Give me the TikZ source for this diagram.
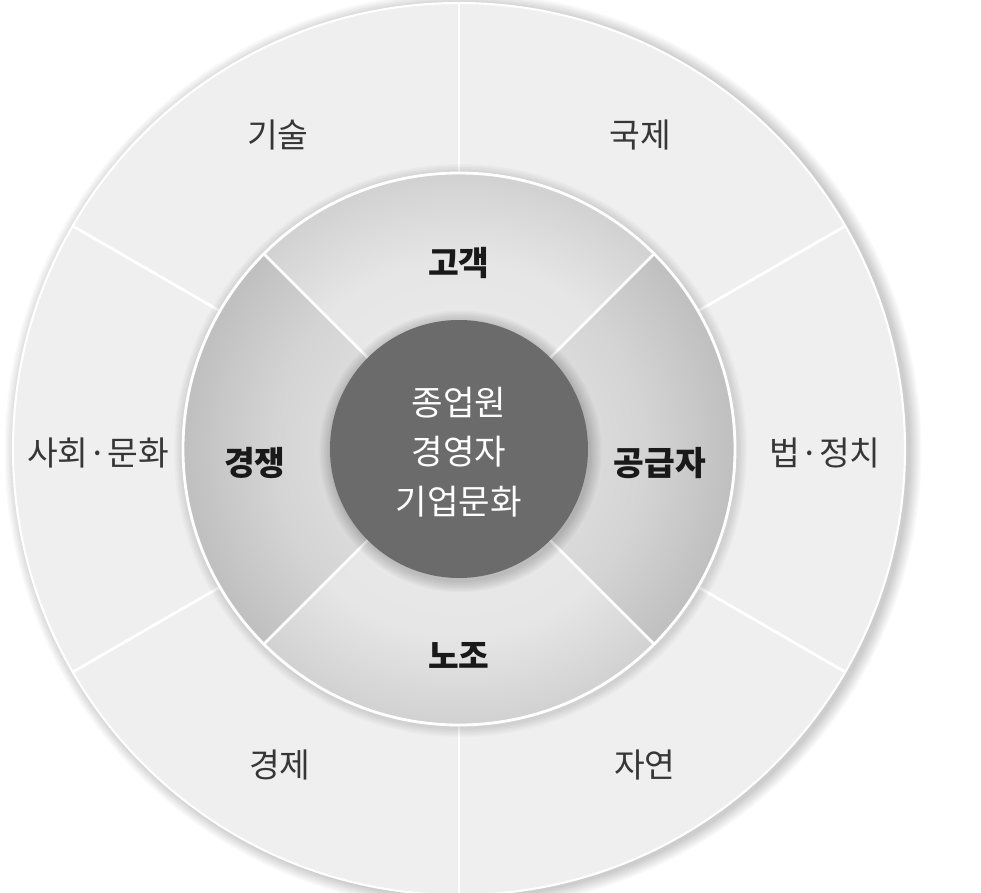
\documentclass[tikz,border=0pt]{standalone}
\usepackage{fontspec}
\setmainfont{Noto Sans CJK KR}
\usetikzlibrary{positioning}

\definecolor{ringout}{HTML}{EFEFF0}
\definecolor{coredark}{HTML}{6B6B6B}
\definecolor{labelgray}{HTML}{363636}

% shadings for the middle ring (25bp = edge of the circle)
\pgfdeclareradialshading{midlight}{\pgfpoint{0bp}{0bp}}{color(0bp)=(black!12); color(12bp)=(black!9); color(17bp)=(black!10); color(25bp)=(black!18); color(50bp)=(black!18)}
\pgfdeclareradialshading{middark}{\pgfpoint{0bp}{0bp}}{color(0bp)=(black!17); color(12bp)=(black!14); color(17bp)=(black!17); color(25bp)=(black!25); color(50bp)=(black!25)}

\tikzset{
  outerlabel/.style={text=labelgray, font=\fontsize{19}{22}\selectfont},
  midlabel/.style={text=black!90, font=\fontsize{19}{22}\selectfont\bfseries},
  corelabel/.style={text=white, align=center, font=\fontsize{19.5}{28}\selectfont},
  divider/.style={white, line width=1.6pt}
}

\begin{document}
\begin{tikzpicture}

  \useasboundingbox[fill=white] (-9.18,-8.88) rectangle (10.44,8.98);

  % soft shadow round the outer circle
  \foreach \i in {1,...,10}
    \fill[black, opacity=0.018] (0.08,-0.04) circle ({8.92+0.025*\i});

  % outer ring
  \fill[ringout] (0,0) circle (8.92);
  \draw[white, line width=1.2pt] (0,0) circle (8.92);
  \foreach \a in {30,90,150,210,270,330}
    \draw[divider] (\a:5.5) -- (\a:8.92);

  % shadow round the middle circle
  \foreach \i in {1,...,6}
    \fill[black, opacity=0.02] (0.03,-0.03) circle ({5.55+0.03*\i});

  % middle ring, lighter sectors top and bottom
  \shade[shading=midlight] (0,0) circle (5.52);
  \foreach \a in {135,-45} {
    \begin{scope}
      \clip (0,0) -- (\a:5.6) arc (\a:\a+90:5.6) -- cycle;
      \shade[shading=middark] (0,0) circle (5.52);
    \end{scope}
  }
  \draw[white, line width=1.6pt] (0,0) circle (5.52);
  \foreach \a in {45,135,225,315}
    \draw[divider] (\a:2.5) -- (\a:5.52);

  % core with its shadow
  \foreach \i in {1,...,8}
    \fill[black, opacity=0.025] (0.03,-0.05) circle ({2.58+0.03*\i});
  \fill[coredark] (0,0) circle (2.58);

  % labels of the outer ring
  \node[outerlabel] (gisul) at (120:7.25) {기술};
  \node[outerlabel] (gukje) at (60:7.25) {국제};
  \node[outerlabel] (sahoe) at (-7.22,-0.08) {사회·문화};
  \node[outerlabel] (beop) at (7.32,-0.08) {법·정치};
  \node[outerlabel] (gyeongje) at (-3.58,-6.32) {경제};
  \node[outerlabel] (jayeon) at (3.72,-6.32) {자연};

  % labels of the middle ring
  \node[midlabel] (gogaek) at (0,3.72) {고객};
  \node[midlabel] (gyeongjaeng) at (-4.08,-0.28) {경쟁};
  \node[midlabel] (gonggeup) at (4.02,-0.28) {공급자};
  \node[midlabel] (nojo) at (0,-4.12) {노조};

  % core text
  \node[corelabel] (core) at (0,-0.06) {종업원\\경영자\\기업문화};

\end{tikzpicture}
\end{document}
